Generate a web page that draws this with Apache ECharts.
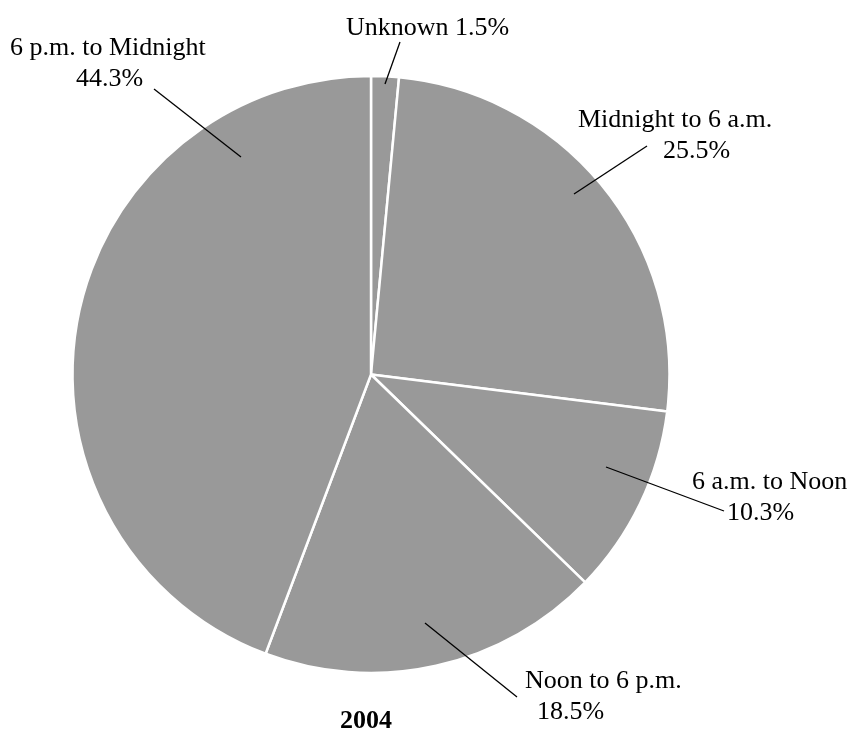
<!DOCTYPE html>
<html>
<head>
<meta charset="utf-8">
<script src="https://cdn.jsdelivr.net/npm/echarts@6/dist/echarts.min.js"></script>
<style>
  html, body { margin: 0; padding: 0; background: #fff; }
  #chart { width: 854px; height: 731px; }
</style>
</head>
<body>
<div id="chart"></div>
<script>
// ---- data ----
const categories = ['Unknown', 'Midnight to 6 a.m.', '6 a.m. to Noon', 'Noon to 6 p.m.', '6 p.m. to Midnight'];
const shares = [1.5, 25.5, 10.3, 18.5, 44.3];
const chartTitle = '2004';

// ---- layout (label placement, not data) ----
const FONT = '"Liberation Serif", "Times New Roman", serif';
const LH = 31.5;
// x,y : top-left of label block; dx2 : left indent of second line; line : [inner point, label end]
const labelPlace = [
  { x: 346, y: 12,  dx2: 0,  oneLine: true, line: [[385, 84], [400, 42]] },
  { x: 578, y: 104, dx2: 85, line: [[574, 194], [647, 146]] },
  { x: 692, y: 466, dx2: 35, line: [[606, 467], [724, 511]] },
  { x: 525, y: 665, dx2: 12, line: [[425, 623], [517, 697]] },
  { x: 10,  y: 32,  dx2: 66, line: [[241, 157], [154, 89]] }
];

const rich = { a: { fontFamily: FONT, fontSize: 26, lineHeight: LH, color: '#000' } };
labelPlace.forEach((p, i) => {
  rich['b' + i] = { fontFamily: FONT, fontSize: 26, lineHeight: LH, color: '#000', padding: [0, 0, 0, p.dx2] };
});

const pieData = categories.map((c, i) => ({ name: c, value: shares[i] }));
const CENTER = [371, 374.5];
const RADIUS = 298.5;

const chart = echarts.init(document.getElementById('chart'), null, { renderer: 'canvas' });
chart.setOption({
  animation: false,
  backgroundColor: '#fff',
  title: {
    text: chartTitle,
    left: 340,
    top: 708,
    padding: 0,
    textStyle: { fontFamily: FONT, fontSize: 26, fontWeight: 'bold', color: '#000' }
  },
  series: [{
    type: 'pie',
    z: 2,
    center: CENTER,
    radius: RADIUS,
    startAngle: 90,
    clockwise: true,
    silent: true,
    itemStyle: { color: '#999999', borderColor: '#ffffff', borderWidth: 2.5 },
    emphasis: { disabled: true },
    label: { show: false },
    labelLine: { show: false },
    data: pieData
  }, {
    type: 'pie',
    z: 5,
    center: CENTER,
    radius: RADIUS,
    startAngle: 90,
    clockwise: true,
    silent: true,
    avoidLabelOverlap: false,
    itemStyle: { color: 'rgba(0,0,0,0)', borderWidth: 0 },
    emphasis: { disabled: true },
    label: {
      show: true,
      position: 'outside',
      formatter: (p) => {
        const i = p.dataIndex;
        const pct = shares[i].toFixed(1) + '%';
        if (labelPlace[i].oneLine) return '{a|' + p.name + ' ' + pct + '}';
        return '{a|' + p.name + '}\n{b' + i + '|' + pct + '}';
      },
      rich: rich
    },
    labelLine: {
      show: true,
      showAbove: true,
      length: 20,
      length2: 0,
      smooth: false,
      lineStyle: { color: '#000', width: 1.3 }
    },
    labelLayout: (params) => {
      const p = labelPlace[params.dataIndex];
      return {
        x: p.x,
        y: p.y,
        align: 'left',
        verticalAlign: 'top',
        labelLinePoints: [p.line[0], p.line[1], p.line[1]]
      };
    },
    data: pieData
  }]
});
</script>
</body>
</html>
